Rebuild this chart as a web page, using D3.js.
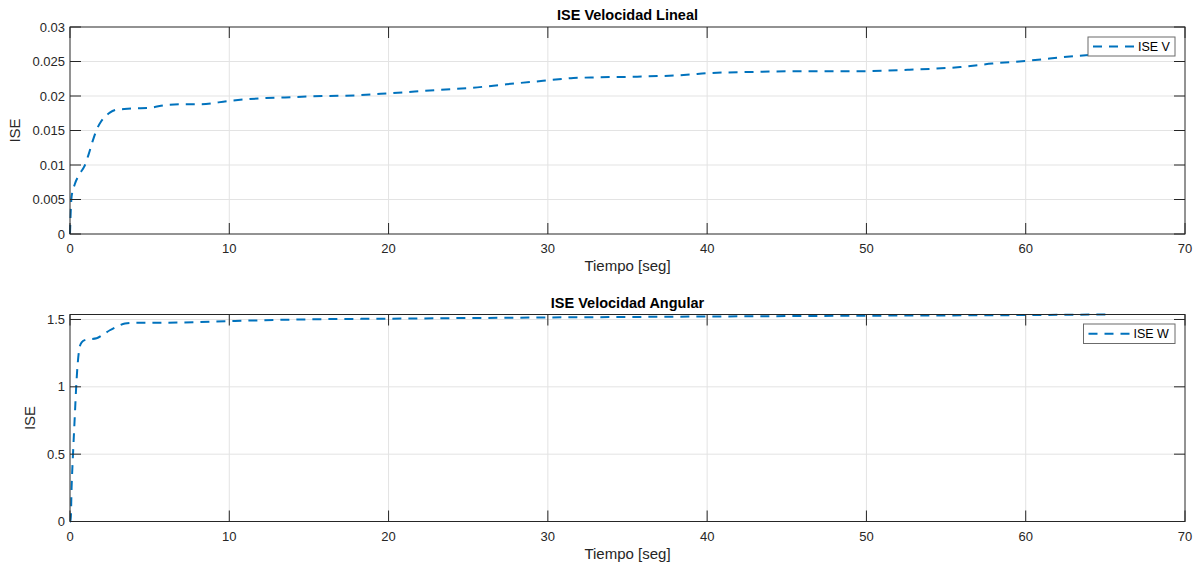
<!DOCTYPE html>
<html>
<head>
<meta charset="utf-8">
<script src="https://cdn.jsdelivr.net/npm/d3@7"></script>
<style>
  body { margin: 0; background: #fff; }
  text { font-family: "Liberation Sans", Arial, Helvetica, sans-serif; }
</style>
</head>
<body>
<svg id="chart" width="1203" height="564"></svg>
<script>
// ---- Data ----
const timeV = [0, 0.05, 0.1, 0.3, 0.63, 0.9, 1.15, 1.4, 1.67, 1.95, 2.2, 2.5, 2.9, 3.4, 4, 5, 6.07, 7, 8.2, 10, 12.3, 13.5, 16, 18, 20.1, 23.2, 25.3, 27.4, 29.7, 31.6, 33, 35.6, 38.9, 40, 43.1, 46, 49.7, 52.7, 55.9, 57.9, 60.05, 63.2, 65];
const iseV  = [0, 0.0035, 0.0054, 0.0072, 0.0088, 0.0098, 0.0114, 0.0133, 0.0151, 0.0163, 0.017, 0.0176, 0.018, 0.0181, 0.0182, 0.0183, 0.0187, 0.0188, 0.0188, 0.0193, 0.0197, 0.0198, 0.0200, 0.0201, 0.0204, 0.0209, 0.0212, 0.0217, 0.0222, 0.0226, 0.0227, 0.0228, 0.0231, 0.0233, 0.0235, 0.0236, 0.0236, 0.0238, 0.0242, 0.0247, 0.0251, 0.0258, 0.0261];

const timeW = [0, 0.04, 0.1, 0.2, 0.3, 0.38, 0.45, 0.52, 0.6, 0.73, 1.0, 1.67, 2.1, 2.5, 3.0, 3.45, 4, 5, 7, 10, 14.4, 20, 30, 40, 50, 60, 65];
const iseW  = [0, 0.0, 0.25, 0.53, 0.78, 0.98, 1.12, 1.22, 1.29, 1.33, 1.35, 1.36, 1.39, 1.42, 1.45, 1.47, 1.475, 1.475, 1.478, 1.488, 1.50, 1.506, 1.515, 1.522, 1.528, 1.533, 1.537];

const xTicks = [0, 10, 20, 30, 40, 50, 60, 70];
const yTicksV = [0, 0.005, 0.01, 0.015, 0.02, 0.025, 0.03];
const yTickLabelsV = ["0", "0.005", "0.01", "0.015", "0.02", "0.025", "0.03"];
const yTicksW = [0, 0.5, 1, 1.5];
const yTickLabelsW = ["0", "0.5", "1", "1.5"];

const titles = ["ISE Velocidad Lineal", "ISE Velocidad Angular"];
const legendNames = ["ISE V", "ISE W"];
const xLabel = "Tiempo [seg]";
const yLabel = "ISE";

// ---- Drawing ----
const svg = d3.select("#chart");
const lineColor = "#0072BD";
const axisColor = "#262626";
const gridColor = "#e3e3e3";
const dash = "9,7";

function panel(cfg) {
  const { left, right, top, bottom, xData, yData, yDomain, yTicks, yLabels,
          title, legend, legendBox, yLabelX } = cfg;
  const x = d3.scaleLinear().domain([0, 70]).range([left, right]);
  const y = d3.scaleLinear().domain(yDomain).range([bottom, top]);
  const g = svg.append("g");
  const tickLen = 11;

  // grid
  g.selectAll(".gx").data(xTicks.slice(1, -1)).enter().append("line")
    .attr("x1", d => x(d)).attr("x2", d => x(d))
    .attr("y1", top).attr("y2", bottom)
    .attr("stroke", gridColor).attr("stroke-width", 1);
  g.selectAll(".gy").data(yTicks.filter(d => y(d) > top + 1 && y(d) < bottom - 1)).enter().append("line")
    .attr("x1", left).attr("x2", right)
    .attr("y1", d => y(d)).attr("y2", d => y(d))
    .attr("stroke", gridColor).attr("stroke-width", 1);

  // line
  const line = d3.line().x((d, i) => x(xData[i])).y((d, i) => y(yData[i])).curve(d3.curveMonotoneX);
  g.append("path").datum(yData)
    .attr("d", line)
    .attr("fill", "none")
    .attr("stroke", lineColor)
    .attr("stroke-width", 2)
    .attr("stroke-dasharray", dash);

  // axes box
  g.append("rect").attr("x", left).attr("y", top)
    .attr("width", right - left).attr("height", bottom - top)
    .attr("fill", "none").attr("stroke", axisColor).attr("stroke-width", 1);

  // ticks inward
  xTicks.forEach(t => {
    g.append("line").attr("x1", x(t)).attr("x2", x(t)).attr("y1", bottom).attr("y2", bottom - tickLen)
      .attr("stroke", axisColor);
    g.append("line").attr("x1", x(t)).attr("x2", x(t)).attr("y1", top).attr("y2", top + tickLen)
      .attr("stroke", axisColor);
  });
  yTicks.forEach(t => {
    g.append("line").attr("x1", left).attr("x2", left + tickLen).attr("y1", y(t)).attr("y2", y(t))
      .attr("stroke", axisColor);
    g.append("line").attr("x1", right).attr("x2", right - tickLen).attr("y1", y(t)).attr("y2", y(t))
      .attr("stroke", axisColor);
  });

  // tick labels
  g.selectAll(".xl").data(xTicks).enter().append("text")
    .attr("x", d => x(d)).attr("y", bottom + 19)
    .attr("text-anchor", "middle").attr("font-size", 13).attr("fill", axisColor)
    .text(d => d);
  g.selectAll(".yl").data(yTicks).enter().append("text")
    .attr("x", left - 5).attr("y", d => y(d) + 4.5)
    .attr("text-anchor", "end").attr("font-size", 13).attr("fill", axisColor)
    .text((d, i) => yLabels[i]);

  // axis labels
  g.append("text").attr("x", (left + right) / 2).attr("y", bottom + 37)
    .attr("text-anchor", "middle").attr("font-size", 15).attr("fill", axisColor)
    .text(xLabel);
  g.append("text")
    .attr("transform", `translate(${yLabelX},${(top + bottom) / 2}) rotate(-90)`)
    .attr("text-anchor", "middle").attr("font-size", 15).attr("fill", axisColor)
    .text(yLabel);

  // title
  g.append("text").attr("x", (left + right) / 2).attr("y", top - 7)
    .attr("text-anchor", "middle").attr("font-size", 14.5).attr("font-weight", "bold")
    .attr("fill", "#000").text(title);

  // legend
  const [lx, ly, lw, lh] = legendBox;
  g.append("rect").attr("x", lx).attr("y", ly).attr("width", lw).attr("height", lh)
    .attr("fill", "#fff").attr("stroke", "#6b6b6b").attr("stroke-width", 1);
  g.append("line").attr("x1", lx + 5).attr("x2", lx + 46)
    .attr("y1", ly + lh / 2).attr("y2", ly + lh / 2)
    .attr("stroke", lineColor).attr("stroke-width", 2).attr("stroke-dasharray", dash);
  g.append("text").attr("x", lx + 50).attr("y", ly + lh / 2 + 4.5)
    .attr("font-size", 12.5).attr("fill", "#000").text(legend);
}

panel({
  left: 70, right: 1185, top: 27, bottom: 234,
  xData: timeV, yData: iseV, yDomain: [0, 0.03],
  yTicks: yTicksV, yLabels: yTickLabelsV,
  title: titles[0], legend: legendNames[0],
  legendBox: [1088, 37, 87, 19], yLabelX: 20
});

panel({
  left: 70, right: 1185, top: 314.5, bottom: 521.5,
  xData: timeW, yData: iseW, yDomain: [0, 1.537],
  yTicks: yTicksW, yLabels: yTickLabelsW,
  title: titles[1], legend: legendNames[1],
  legendBox: [1083.5, 324, 91.5, 19.5], yLabelX: 35
});
</script>
</body>
</html>
